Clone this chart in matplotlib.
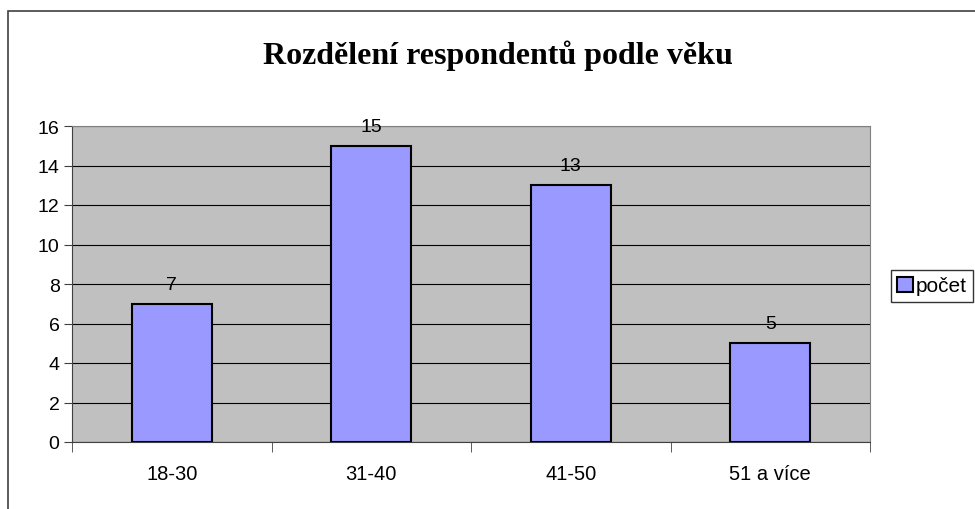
import numpy as np
import matplotlib.pyplot as plt
from matplotlib.patches import Rectangle

categories = ['18-30', '31-40', '41-50', '51 a více']
pocet = [7, 15, 13, 5]
y_ticks = [0, 2, 4, 6, 8, 10, 12, 14, 16]

W, H = 975, 510
fig = plt.figure(figsize=(W / 100, H / 100), dpi=100)
fig.patch.set_facecolor('white')

# outer chart border (runs off the right and bottom edges)
fig.patches.append(Rectangle((8 / W, -0.1), 1.2, 1 - 12 / H + 0.1,
                             transform=fig.transFigure, fill=False,
                             edgecolor='#404040', lw=1.2))

ax = fig.add_axes([72 / W, 1 - 443 / H, (870 - 72) / W, (443 - 127) / H])
ax.set_facecolor('#C0C0C0')

x = np.arange(len(categories))
bars = ax.bar(x, pocet, width=0.4, color='#9999FF', edgecolor='black',
              lw=1.5, label='počet', zorder=3)
for xi, v in zip(x, pocet):
    ax.annotate(str(v), (xi, v), xytext=(0, 8), textcoords='offset points',
                ha='center', va='bottom', fontsize=14,
                family='Liberation Sans')

ax.set_xlim(-0.5, len(categories) - 0.5)
ax.set_ylim(0, 16)
ax.set_yticks(y_ticks)
ax.set_yticklabels([str(t) for t in y_ticks], fontsize=14, family='Liberation Sans')
ax.yaxis.grid(True, color='black', lw=0.8, zorder=1)
ax.set_axisbelow(True)

ax.set_xticks(x)
ax.set_xticklabels(categories, fontsize=14.5, family='Liberation Sans')
ax.tick_params(axis='x', which='major', length=0, pad=16)
ax.set_xticks(np.arange(-0.5, len(categories)), minor=True)
ax.tick_params(axis='x', which='minor', length=7, direction='out', color='#404040')
ax.tick_params(axis='y', length=6, direction='out', color='#404040', pad=3)

for side in ['top', 'right']:
    ax.spines[side].set_color('#808080')
ax.spines['left'].set_color('#404040')
ax.spines['bottom'].set_color('#404040')

fig.text(498 / W, 1 - 56 / H, 'Rozdělení respondentů podle věku',
         ha='center', va='center', fontsize=23, fontweight='bold',
         family='Liberation Serif')

leg = ax.legend(loc='center left', bbox_to_anchor=(891 / W, 1 - 287 / H),
                bbox_transform=fig.transFigure, frameon=True, fancybox=False,
                prop={'family': 'Liberation Sans', 'size': 15},
                handlelength=0.75, handleheight=0.75, handletextpad=0.15,
                borderpad=0.3, borderaxespad=0)
leg.get_frame().set_edgecolor('black')
leg.get_frame().set_linewidth(1)

fig.savefig('out.png', dpi=100)
